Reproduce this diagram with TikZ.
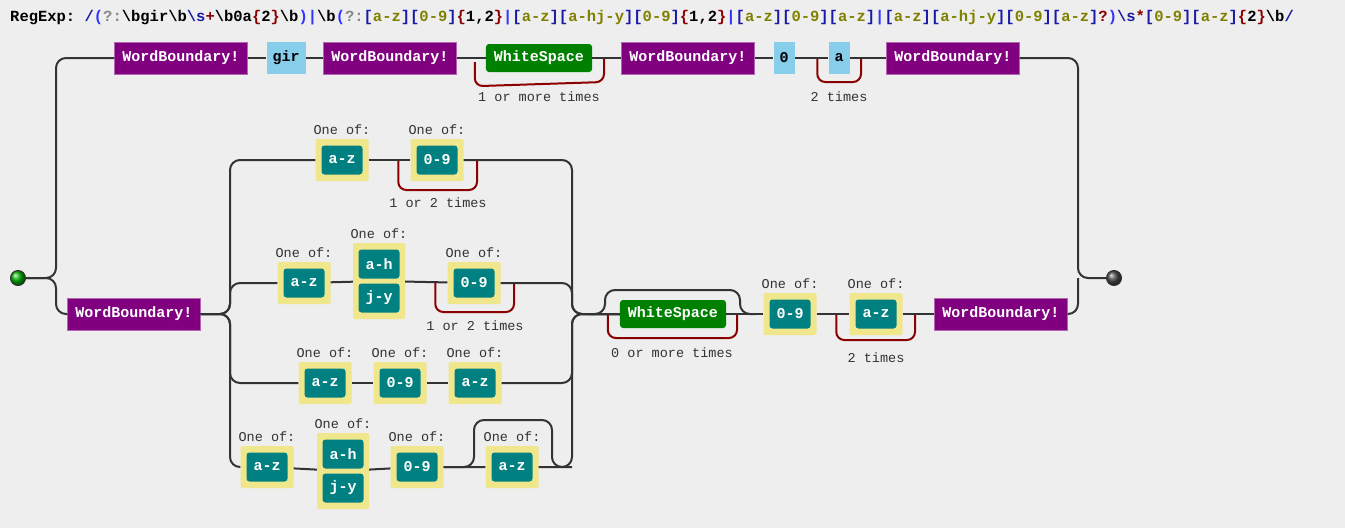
\documentclass[tikz,border=0pt]{standalone}
\usepackage{fontspec}
\setmonofont{Liberation Mono}
\usetikzlibrary{positioning}
\definecolor{bg}{HTML}{EEEEEE}
\definecolor{ln}{HTML}{333333}
\definecolor{wbc}{HTML}{800080}
\definecolor{litc}{HTML}{87CEEB}
\definecolor{wsc}{HTML}{008000}
\definecolor{clsc}{HTML}{F0E68C}
\definecolor{rngc}{HTML}{008080}
\definecolor{loopc}{HTML}{8B0000}
\definecolor{hnavy}{HTML}{1A1AA6}
\definecolor{hblue}{HTML}{3333FF}
\definecolor{hgray}{HTML}{888888}
\definecolor{holive}{HTML}{808000}
\newcommand\hN[1]{\textcolor{hnavy}{#1}}
\newcommand\hB[1]{\textcolor{hblue}{#1}}
\newcommand\hG[1]{\textcolor{hgray}{#1}}
\newcommand\hR[1]{\textcolor{loopc}{#1}}
\newcommand\cc[1]{\hN{[}\textcolor{holive}{#1}\hN{]}}
\newcommand\bs{\textbackslash}
\tikzset{
  box/.style={font=\ttfamily\bfseries\fontsize{15}{16}\selectfont, inner xsep=8pt, minimum height=32pt},
  wb/.style={box, fill=wbc, text=white, draw=wbc!60},
  lit/.style={box, fill=litc, text=black, inner xsep=6pt},
  ws/.style={box, fill=wsc, text=white, rounded corners=3pt, minimum height=28pt},
  cls/.style={fill=clsc, minimum width=53pt, minimum height=42pt, rounded corners=2pt},
  rng/.style={box, fill=rngc, text=white, rounded corners=3pt, minimum width=41pt, minimum height=29pt, inner xsep=3pt},
  lbl/.style={font=\ttfamily\fontsize{13.5}{14}\selectfont, text=ln},
  rc/.style={draw=ln, line width=2pt, rounded corners=10pt},
  lp/.style={draw=loopc, line width=2pt, rounded corners=8pt},
}
\newcommand\oneof[4]{%
  \node[cls] (#1) at (#2,#3) {};
  \node[rng] (#1r) at (#2,#3) {#4};
  \node[lbl, above=1pt of #1] {One of:};}
\newcommand\twoof[3]{%
  \node[cls, minimum width=52pt, minimum height=76pt] (#1) at (#2,#3) {};
  \node[rng] (#1a) at (#2,#3-17) {a-h};
  \node[rng] (#1b) at (#2,#3+17) {j-y};
  \node[lbl, above=1pt of #1] {One of:};}

\begin{document}
\begin{tikzpicture}[x=1pt, y=-1pt]
\fill[bg] (0,0) rectangle (1345,528);
\useasboundingbox (0,0) rectangle (1345,528);

% header
\node[anchor=west, font=\ttfamily\bfseries\fontsize{15.5}{16}\selectfont, inner sep=0pt] (hdr) at (10,18)
  {RegExp: \hN{/}\hB{(}\hG{?:}\bs bgir\bs b\hN{\bs s}\hR{+}\bs b0a\hR{\{}2\hR{\}}\bs b\hB{)}\hB{|}\bs b\hB{(}\hG{?:}\cc{a-z}\cc{0-9}\hR{\{}1,2\hR{\}}\hB{|}\cc{a-z}\cc{a-hj-y}\cc{0-9}\hR{\{}1,2\hR{\}}\hB{|}\cc{a-z}\cc{0-9}\cc{a-z}\hB{|}\cc{a-z}\cc{a-hj-y}\cc{0-9}\cc{a-z}\hR{?}\hB{)}\hN{\bs s}\hR{*}\cc{0-9}\cc{a-z}\hR{\{}2\hR{\}}\bs b\hN{/}};

% start and end
\node[circle, draw=ln, line width=1pt, inner sep=0pt, minimum size=15pt, ball color=green!70!black] (start) at (18,278) {};
\node[circle, draw=ln, line width=1pt, inner sep=0pt, minimum size=15pt, ball color=black!70] (end) at (1114,278) {};

% top branch
\node[wb] (wbA) at (181,58) {WordBoundary!};
\node[lit] (gir) at (286,58) {gir};
\node[wb] (wbB) at (390,58) {WordBoundary!};
\node[ws] (wsA) at (539,58) {WhiteSpace};
\node[wb] (wbC) at (688,58) {WordBoundary!};
\node[lit] (zero) at (784,58) {0};
\node[lit] (aa) at (839,58) {a};
\node[wb] (wbD) at (953,58) {WordBoundary!};
\node[lbl] at (539,97) {1 or more times};
\node[lbl] at (839,97) {2 times};

% bottom branch
\node[wb] (wbE) at (134,314) {WordBoundary!};
\oneof{a1z}{342}{160}{a-z}
\oneof{a1n}{437}{160}{0-9}
\node[lbl] at (438,203) {1 or 2 times};
\oneof{a2z}{304}{283}{a-z}
\twoof{a2h}{379}{281}
\oneof{a2n}{474}{283}{0-9}
\node[lbl] at (475,326) {1 or 2 times};
\oneof{a3z}{325}{383}{a-z}
\oneof{a3n}{400}{383}{0-9}
\oneof{a3e}{475}{383}{a-z}
\oneof{a4z}{267}{467}{a-z}
\twoof{a4h}{343}{471}
\oneof{a4n}{417}{467}{0-9}
\oneof{a4e}{512}{467}{a-z}
\node[ws] (wsB) at (673,314) {WhiteSpace};
\node[lbl] at (672,353) {0 or more times};
\oneof{dig}{790}{314}{0-9}
\oneof{let}{876}{314}{a-z}
\node[lbl] at (876,358) {2 times};
\node[wb] (wbF) at (1001,314) {WordBoundary!};

% loops
\draw[lp] (wsA.south west) ++(-11,-10) -- ++(0,24) -- (604,82) -- (604,58);
\draw[lp] (aa.west) ++(-11,0) -- ++(0,24) -- (861,82) -- (861,58);
\draw[lp] (a1n.west) ++(-12,0) -- ++(0,30) -- (477,190) -- (477,160);
\draw[lp] (a2n.west) ++(-12,0) -- ++(0,29) -- (514,312) -- (514,283);
\draw[lp] (wsB.west) ++(-12,0) -- ++(0,24) -- (737,338) -- (737,314);
\draw[lp] (let.west) ++(-13,0) -- ++(0,26) -- (915,340) -- (915,314);

% connectors
\draw[rc] (start.east) -- (56,278) |- (wbA.west);
\draw[rc] (start.east) -- (56,278) |- (wbE.west);
\draw[rc] (wbA) -- (gir) -- (wbB) -- (wsA) -- (wbC) -- (zero) -- (aa) -- (wbD);
\draw[rc] (wbD.east) -| (1078,278) -- (end.west);
\draw[rc] (wbF.east) -| (1078,278);
\foreach \n in {a1z,a2z,a3z,a4z}
  \draw[rc] (wbE.east) -- (230,314) |- (\n.west);
\draw[rc] (a1z) -- (a1n);
\draw[rc] (a2z) -- (a2h) -- (a2n);
\draw[rc] (a3z) -- (a3n) -- (a3e);
\draw[rc] (a4z) -- (a4h) -- (a4n) -- (a4e);
\draw[rc] (a4n.east) -- (474,467) -- (474,420) -- (552,420) -- (552,467) -- (572,467);
\foreach \n in {a1n,a2n,a3e,a4e}
  \draw[rc] (\n.east) -| (572,314) -- (wsB.west);
\draw[rc] (590,314) -- (605,314) -- (605,290) -- (740,290) -- (740,314) -- (755,314);
\draw[rc] (wsB) -- (dig) -- (let) -- (wbF);
\end{tikzpicture}
\end{document}
